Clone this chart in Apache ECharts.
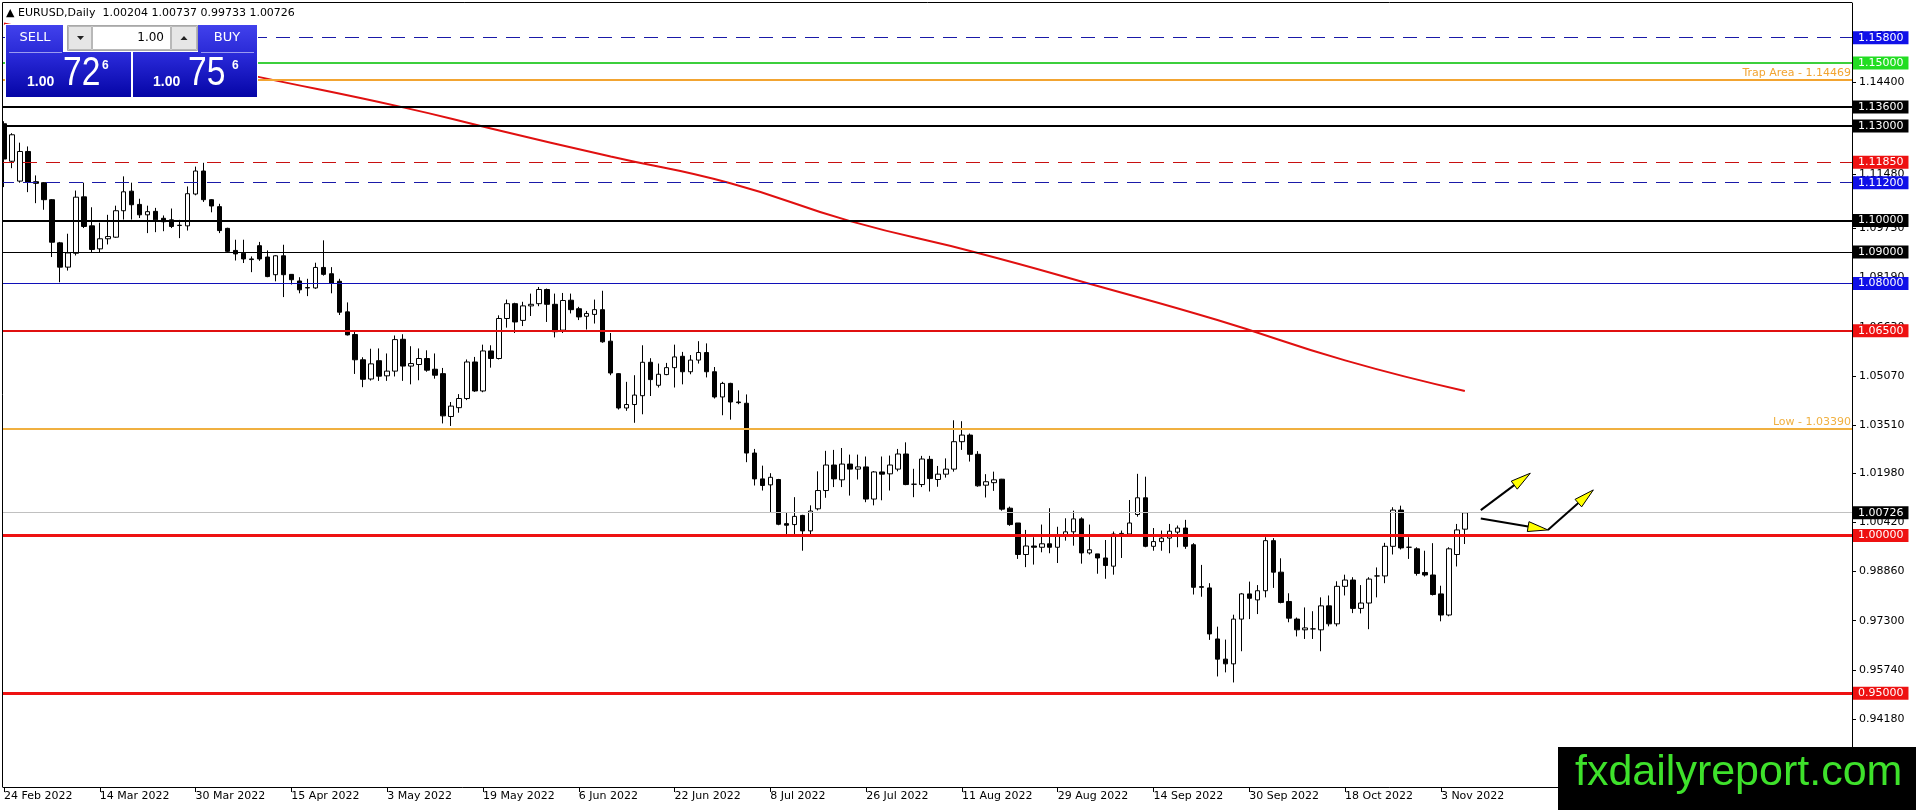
<!DOCTYPE html>
<html>
<head>
<meta charset="utf-8">
<title>EURUSD Daily</title>
<script src="https://cdn.jsdelivr.net/npm/echarts@6.0.0/dist/echarts.min.js"></script>
<style>
  html, body { margin: 0; padding: 0; background: #fff; }
  #main { width: 1916px; height: 810px; }
</style>
</head>
<body>
<div id="main"></div>
<script>
// daily bars, 24 Feb 2022 .. 8 Nov 2022
var opens = [
  1.1307, 1.1188, 1.1125, 1.1219, 1.1123, 1.1120, 1.1066, 1.0929, 1.0852, 1.0896, 1.1075, 1.0983,
  1.0910, 1.0942, 1.0947, 1.1031, 1.1093, 1.1051, 1.1018, 1.1029, 1.1007, 1.1002, 1.0984, 1.0983,
  1.1084, 1.1157, 1.1066, 1.1044, 1.0975, 1.0905, 1.0896, 1.0878, 1.0920, 1.0884, 1.0828, 1.0888,
  1.0829, 1.0808, 1.0787, 1.0786, 1.0851, 1.0831, 1.0807, 1.0710, 1.0638, 1.0558, 1.0497, 1.0555,
  1.0507, 1.0522, 1.0623, 1.0538, 1.0543, 1.0562, 1.0528, 1.0514, 1.0378, 1.0406, 1.0435, 1.0551,
  1.0459, 1.0586, 1.0562, 1.0689, 1.0736, 1.0683, 1.0729, 1.0736, 1.0781, 1.0734, 1.0652, 1.0747,
  1.0720, 1.0696, 1.0702, 1.0717, 1.0617, 1.0514, 1.0405, 1.0416, 1.0444, 1.0550, 1.0477, 1.0511,
  1.0533, 1.0569, 1.0520, 1.0557, 1.0581, 1.0520, 1.0440, 1.0483, 1.0424, 1.0420, 1.0262, 1.0180,
  1.0161, 1.0178, 1.0038, 1.0035, 1.0064, 1.0015, 1.0085, 1.0143, 1.0224, 1.0177, 1.0227, 1.0211,
  1.0218, 1.0116, 1.0202, 1.0196, 1.0211, 1.0259, 1.0163, 1.0162, 1.0242, 1.0178, 1.0195, 1.0211,
  1.0298, 1.0319, 1.0258, 1.0160, 1.0168, 1.0179, 1.0087, 1.0040, 0.9940, 0.9967, 0.9963, 0.9974,
  0.9963, 1.0002, 1.0012, 1.0053, 0.9945, 0.9942, 0.9929, 0.9903, 1.0003, 1.0005, 1.0067, 1.0120,
  0.9966, 0.9981, 0.9992, 1.0011, 1.0024, 0.9971, 0.9838, 0.9834, 0.9672, 0.9608, 0.9593, 0.9735,
  0.9815, 0.9796, 0.9825, 0.9984, 0.9884, 0.9791, 0.9735, 0.9701, 0.9704, 0.9701, 0.9777, 0.9720,
  0.9839, 0.9859, 0.9769, 0.9786, 0.9872, 0.9872, 0.9966, 1.0081, 0.9963, 0.9958, 0.9883, 0.9875,
  0.9815, 0.9748, 0.9940, 1.00204
];
var highs = [
  1.1315, 1.1277, 1.1247, 1.1235, 1.1143, 1.1122, 1.1068, 1.0932, 1.0958, 1.1095, 1.1120, 1.1042,
  1.0993, 1.1018, 1.1047, 1.1140, 1.1120, 1.1069, 1.1047, 1.1040, 1.1016, 1.1038, 1.1002, 1.1108,
  1.1171, 1.1183, 1.1068, 1.1053, 1.0977, 1.0939, 1.0939, 1.0886, 1.0932, 1.0905, 1.0890, 1.0923,
  1.0830, 1.0820, 1.0815, 1.0866, 1.0937, 1.0852, 1.0815, 1.0740, 1.0646, 1.0566, 1.0593, 1.0594,
  1.0578, 1.0635, 1.0639, 1.0601, 1.0594, 1.0588, 1.0578, 1.0532, 1.0424, 1.0449, 1.0559, 1.0567,
  1.0606, 1.0604, 1.0699, 1.0749, 1.0739, 1.0742, 1.0768, 1.0789, 1.0784, 1.0768, 1.0770, 1.0768,
  1.0726, 1.0713, 1.0749, 1.0777, 1.0643, 1.0516, 1.0488, 1.0509, 1.0604, 1.0563, 1.0546, 1.0548,
  1.0606, 1.0583, 1.0573, 1.0617, 1.0610, 1.0535, 1.0488, 1.0485, 1.0461, 1.0448, 1.0275, 1.0222,
  1.0198, 1.0180, 1.0072, 1.0122, 1.0066, 1.0096, 1.0204, 1.0269, 1.0272, 1.0278, 1.0257, 1.0257,
  1.0251, 1.0205, 1.0251, 1.0254, 1.0275, 1.0296, 1.0212, 1.0253, 1.0253, 1.0221, 1.0245, 1.0366,
  1.0363, 1.0324, 1.0268, 1.0195, 1.0203, 1.0180, 1.0092, 1.0040, 1.0018, 0.9995, 1.0035, 1.0087,
  1.0028, 1.0055, 1.0079, 1.0058, 1.0035, 0.9942, 0.9986, 1.0013, 1.0016, 1.0113, 1.0196, 1.0187,
  1.0024, 1.0016, 1.0037, 1.0032, 1.0050, 0.9976, 0.9907, 0.9849, 0.9711, 0.9670, 0.9749, 0.9818,
  0.9854, 0.9843, 0.9995, 0.9992, 0.9928, 0.9817, 0.9740, 0.9772, 0.9760, 0.9804, 0.9810, 0.9855,
  0.9876, 0.9868, 0.9843, 0.9868, 0.9899, 0.9977, 1.0090, 1.0095, 0.9995, 0.9963, 0.9952, 0.9976,
  0.9841, 0.9963, 1.0037, 1.00737
];
var lows = [
  1.1106, 1.1166, 1.1120, 1.1090, 1.1055, 1.1034, 1.0884, 1.0804, 1.0841, 1.0889, 1.0976, 1.0900,
  1.0900, 1.0924, 1.0945, 1.1003, 1.1003, 1.1008, 1.0960, 1.0963, 1.0966, 1.0976, 1.0944, 1.0968,
  1.1080, 1.1059, 1.1026, 1.0960, 1.0900, 1.0873, 1.0865, 1.0836, 1.0872, 1.0820, 1.0807, 1.0757,
  1.0797, 1.0769, 1.0760, 1.0783, 1.0825, 1.0769, 1.0700, 1.0635, 1.0513, 1.0471, 1.0492, 1.0491,
  1.0491, 1.0505, 1.0491, 1.0480, 1.0493, 1.0520, 1.0498, 1.0356, 1.0348, 1.0390, 1.0430, 1.0456,
  1.0455, 1.0533, 1.0559, 1.0660, 1.0643, 1.0665, 1.0697, 1.0728, 1.0678, 1.0629, 1.0643, 1.0705,
  1.0684, 1.0654, 1.0673, 1.0612, 1.0509, 1.0400, 1.0396, 1.0358, 1.0385, 1.0443, 1.0470, 1.0509,
  1.0470, 1.0480, 1.0512, 1.0546, 1.0502, 1.0435, 1.0382, 1.0368, 1.0417, 1.0233, 1.0159, 1.0143,
  1.0072, 1.0033, 1.0004, 1.0004, 0.9952, 1.0004, 1.0080, 1.0120, 1.0154, 1.0154, 1.0127, 1.0178,
  1.0106, 1.0096, 1.0112, 1.0143, 1.0204, 1.0160, 1.0122, 1.0154, 1.0140, 1.0155, 1.0184, 1.0203,
  1.0272, 1.0235, 1.0155, 1.0121, 1.0142, 1.0079, 1.0031, 0.9926, 0.9900, 0.9908, 0.9947, 0.9944,
  0.9913, 0.9984, 0.9968, 0.9911, 0.9940, 0.9879, 0.9863, 0.9876, 0.9929, 1.0003, 1.0060, 0.9963,
  0.9952, 0.9952, 0.9944, 0.9963, 0.9958, 0.9813, 0.9806, 0.9669, 0.9553, 0.9566, 0.9534, 0.9633,
  0.9735, 0.9751, 0.9804, 0.9834, 0.9785, 0.9725, 0.9680, 0.9672, 0.9672, 0.9633, 0.9712, 0.9712,
  0.9810, 0.9754, 0.9753, 0.9703, 0.9804, 0.9849, 0.9940, 0.9956, 0.9926, 0.9873, 0.9870, 0.9810,
  0.9728, 0.9744, 0.9902, 0.99733
];
var closes = [
  1.1195, 1.1272, 1.1219, 1.1122, 1.1118, 1.1066, 1.0931, 1.0852, 1.0897, 1.1074, 1.0981, 1.0908,
  1.0942, 1.0949, 1.1031, 1.1091, 1.1050, 1.1018, 1.1028, 1.1002, 1.0996, 1.0981, 1.0985, 1.1085,
  1.1157, 1.1066, 1.1046, 1.0968, 1.0902, 1.0894, 1.0878, 1.0876, 1.0878, 1.0822, 1.0888, 1.0828,
  1.0812, 1.0780, 1.0786, 1.0851, 1.0829, 1.0801, 1.0709, 1.0637, 1.0558, 1.0496, 1.0545, 1.0506,
  1.0522, 1.0622, 1.0538, 1.0546, 1.0562, 1.0525, 1.0509, 1.0380, 1.0411, 1.0435, 1.0551, 1.0459,
  1.0586, 1.0562, 1.0689, 1.0736, 1.0678, 1.0729, 1.0734, 1.0781, 1.0734, 1.0647, 1.0746, 1.0717,
  1.0694, 1.0705, 1.0717, 1.0615, 1.0516, 1.0405, 1.0416, 1.0446, 1.0550, 1.0495, 1.0512, 1.0533,
  1.0567, 1.0520, 1.0557, 1.0581, 1.0520, 1.0440, 1.0483, 1.0424, 1.0422, 1.0262, 1.0180, 1.0159,
  1.0185, 1.0036, 1.0033, 1.0061, 1.0015, 1.0078, 1.0143, 1.0224, 1.0180, 1.0227, 1.0211, 1.0218,
  1.0116, 1.0202, 1.0195, 1.0224, 1.0259, 1.0162, 1.0163, 1.0243, 1.0181, 1.0195, 1.0211, 1.0298,
  1.0319, 1.0258, 1.0158, 1.0171, 1.0177, 1.0084, 1.0035, 0.9940, 0.9967, 0.9963, 0.9974, 0.9963,
  1.0002, 1.0012, 1.0053, 0.9945, 0.9955, 0.9929, 0.9905, 1.0005, 1.0007, 1.0040, 1.0120, 0.9966,
  0.9981, 0.9992, 1.0014, 1.0024, 0.9966, 0.9836, 0.9836, 0.9688, 0.9608, 0.9593, 0.9735, 0.9815,
  0.9801, 0.9825, 0.9984, 0.9884, 0.9788, 0.9738, 0.9701, 0.9707, 0.9704, 0.9777, 0.9720, 0.9839,
  0.9859, 0.9769, 0.9786, 0.9862, 0.9872, 0.9966, 1.0081, 0.9961, 0.9963, 0.9880, 0.9875, 0.9813,
  0.9748, 0.9958, 1.0018, 1.00726
];

// red moving average, [bar index, value] read at a few points
var maPoints = [
  [0, 1.1625], [32, 1.1455], [50, 1.1359], [61, 1.1292], [76, 1.1203], [91, 1.1118],
  [106, 1.0998], [122, 1.0897], [137, 1.0792], [152, 1.0684], [168, 1.0556], [183, 1.0459]
];

// horizontal levels drawn on the chart
var levelPrices = [1.158, 1.15, 1.14469, 1.136, 1.13, 1.1185, 1.112, 1.10, 1.09, 1.08, 1.065, 1.0339, 1.00726, 1.0, 0.95];

// price scale tick labels
var priceTicks = [1.1586, 1.1440, 1.1294, 1.1148, 1.0975, 1.0819, 1.0663, 1.0507, 1.0351, 1.0198, 1.0042, 0.9886, 0.9730, 0.9574, 0.9418];

// hand drawn arrows, [bar index, price] pairs
var arrows = [
  [[185, 1.0081], [191.2, 1.0198]],
  [[185, 1.0054], [193.4, 1.0018]],
  [[193.4, 1.0018], [199.1, 1.0145]]
];

var futureBars = 48;

// weekday dates for the category axis
var months = ['Jan','Feb','Mar','Apr','May','Jun','Jul','Aug','Sep','Oct','Nov','Dec'];
var dates = [];
var d = new Date(Date.UTC(2022, 1, 24));
var last = Date.UTC(2022, 10, 8);
while (d.getTime() <= last) {
    var wd = d.getUTCDay();
    if (wd !== 0 && wd !== 6) {
        dates.push(d.getUTCDate() + ' ' + months[d.getUTCMonth()] + ' ' + d.getUTCFullYear());
    }
    d.setUTCDate(d.getUTCDate() + 1);
}
var categories = dates.slice();
for (var k = 0; k < futureBars; k++) categories.push('');

var candles = [];
for (var i = 0; i < opens.length; i++) {
    candles.push([opens[i], closes[i], lows[i], highs[i]]);
}

var FONT = 'DejaVu Sans';

// styles for each level, same order as levelPrices
var levelStyles = [
    {color: '#1a1aa8', width: 1, type: [14, 9], box: '#1010e8'},
    {color: '#3ccf3c', width: 2, type: 'solid', box: '#22dd22'},
    {color: '#f2a431', width: 2, type: 'solid', text: 'Trap Area - 1.14469'},
    {color: '#000000', width: 2, type: 'solid', box: '#000000'},
    {color: '#000000', width: 2, type: 'solid', box: '#000000'},
    {color: '#c81010', width: 1, type: [14, 9], box: '#ee1111'},
    {color: '#1a1aa8', width: 1, type: [14, 9], box: '#1010e8'},
    {color: '#000000', width: 2, type: 'solid', box: '#000000'},
    {color: '#000000', width: 1, type: 'solid', box: '#000000'},
    {color: '#1010b8', width: 1, type: 'solid', box: '#1010e8'},
    {color: '#e01010', width: 2, type: 'solid', box: '#ee1111'},
    {color: '#f0b040', width: 2, type: 'solid', text: 'Low - 1.03390'},
    {color: '#c0c0c0', width: 1, type: 'solid', box: '#000000'},
    {color: '#ee1111', width: 3, type: 'solid', box: '#ee1111'},
    {color: '#ee1111', width: 3, type: 'solid', box: '#ee1111'}
];

var levelLines = levelPrices.map(function (p, idx) {
    var s = levelStyles[idx];
    var item = {
        yAxis: p,
        lineStyle: {color: s.color, width: s.width, type: s.type, opacity: 1}
    };
    if (s.box) {
        item.label = {
            show: true, position: 'end', distance: 1,
            formatter: p.toFixed(5),
            color: '#ffffff', backgroundColor: s.box,
            fontFamily: FONT, fontSize: 11, lineHeight: 13,
            padding: [0, 5, 0, 5]
        };
    } else {
        item.label = {
            show: true, position: 'insideEndTop', distance: 1,
            formatter: s.text, color: s.color,
            fontFamily: FONT, fontSize: 11
        };
    }
    return item;
});

var myChart = echarts.init(document.getElementById('main'));

option = {
    animation: false,
    backgroundColor: '#ffffff',
    grid: {left: -1, right: 64, top: 3, bottom: 23, containLabel: false},
    xAxis: {
        type: 'category',
        data: categories,
        boundaryGap: true,
        axisLine: {show: true, lineStyle: {color: '#000', width: 1}},
        axisTick: {
            show: true, alignWithLabel: true, length: 5,
            interval: function (idx, val) { return val !== '' && idx % 12 === 0; },
            lineStyle: {color: '#000'}
        },
        axisLabel: {
            interval: function (idx, val) { return val !== '' && idx % 12 === 0; },
            align: 'left', margin: 4,
            color: '#000', fontFamily: FONT, fontSize: 11
        },
        splitLine: {show: false}
    },
    yAxis: {
        type: 'value',
        position: 'right',
        scale: true,
        min: 0.92022,
        max: 1.16902,
        axisLine: {show: true, lineStyle: {color: '#000', width: 1}},
        axisTick: {show: true, length: 4, customValues: priceTicks, lineStyle: {color: '#000'}},
        axisLabel: {
            customValues: priceTicks,
            formatter: function (v) { return v.toFixed(5); },
            margin: 7, color: '#000', fontFamily: FONT, fontSize: 11
        },
        splitLine: {show: false}
    },
    series: [
        {
            name: 'EURUSD',
            type: 'candlestick',
            data: candles,
            barWidth: 5,
            clip: false,
            itemStyle: {
                color: '#ffffff',
                color0: '#000000',
                borderColor: '#000000',
                borderColor0: '#000000',
                borderWidth: 1
            },
            markLine: {
                silent: true,
                precision: 5,
                symbol: ['none', 'none'],
                data: levelLines
            }
        },
        {
            name: 'MA',
            type: 'line',
            data: maPoints,
            smooth: true,
            showSymbol: false,
            silent: true,
            lineStyle: {color: '#e01010', width: 2}
        }
    ]
};
myChart.setOption(option);

// overlay: trade panel, title, arrows, logo
function toPx(idx, price) {
    var a = myChart.convertToPixel({seriesIndex: 0}, [0, price]);
    var b = myChart.convertToPixel({seriesIndex: 0}, [1, price]);
    return [a[0] + (b[0] - a[0]) * idx, a[1]];
}

function arrowShapes(p0, p1) {
    var dx = p1[0] - p0[0], dy = p1[1] - p0[1];
    var len = Math.sqrt(dx * dx + dy * dy);
    var ux = dx / len, uy = dy / len, nx = -uy, ny = ux;
    var hl = 20, hw = 5;
    var bx = p1[0] - ux * hl, by = p1[1] - uy * hl;
    return [
        {type: 'line', z: 90, shape: {x1: p0[0], y1: p0[1], x2: bx, y2: by}, style: {stroke: '#000', lineWidth: 2}},
        {type: 'polygon', z: 91, shape: {points: [[p1[0], p1[1]], [bx + nx * hw, by + ny * hw], [bx - nx * hw, by - ny * hw]]},
            style: {fill: '#ffff00', stroke: '#000', lineWidth: 1}}
    ];
}

var headGrad = new echarts.graphic.LinearGradient(0, 0, 0, 1, [{offset: 0, color: '#4141ec'}, {offset: 1, color: '#2b2bd8'}]);
var boxGrad = new echarts.graphic.LinearGradient(0, 0, 0, 1, [{offset: 0, color: '#2c2cdc'}, {offset: 1, color: '#0505a6'}]);

var gfx = [
    // frame top/left
    {type: 'rect', z: 80, shape: {x: -2, y: 0, width: 4.5, height: 790}, style: {fill: '#fff'}},
    {type: 'line', z: 81, shape: {x1: 2.5, y1: 2.5, x2: 1852, y2: 2.5}, style: {stroke: '#000', lineWidth: 1}},
    {type: 'line', z: 81, shape: {x1: 2.5, y1: 2.5, x2: 2.5, y2: 787}, style: {stroke: '#000', lineWidth: 1}},
    // title
    {type: 'text', z: 100, x: 6, y: 13, style: {text: '\u25B2 EURUSD,Daily  1.00204 1.00737 0.99733 1.00726', font: '11px "DejaVu Sans"', fill: '#000', verticalAlign: 'middle'}},
    // white underlay of the trade panel
    {type: 'rect', z: 99, shape: {x: 5, y: 24, width: 253, height: 74}, style: {fill: '#ffffff'}},
    // sell / buy headers
    {type: 'rect', z: 100, shape: {x: 6, y: 25, width: 57, height: 27}, style: {fill: headGrad}},
    {type: 'rect', z: 100, shape: {x: 198, y: 25, width: 59, height: 27}, style: {fill: headGrad}},
    {type: 'text', z: 101, x: 35, y: 38, style: {text: 'SELL', font: '13px "DejaVu Sans"', fill: '#fff', align: 'center', verticalAlign: 'middle'}},
    {type: 'text', z: 101, x: 227, y: 38, style: {text: 'BUY', font: '13px "DejaVu Sans"', fill: '#fff', align: 'center', verticalAlign: 'middle'}},
    // lot spinner
    {type: 'rect', z: 100, shape: {x: 67.5, y: 25.5, width: 130, height: 25}, style: {fill: '#f0f0f0', stroke: '#a8a8a8', lineWidth: 1}},
    {type: 'rect', z: 101, shape: {x: 68.5, y: 26.5, width: 23, height: 23}, style: {fill: '#e6e6e6', stroke: '#b8b8b8', lineWidth: 1}},
    {type: 'polygon', z: 102, shape: {points: [[77, 36], [84, 36], [80.5, 40]]}, style: {fill: '#222'}},
    {type: 'rect', z: 101, shape: {x: 92.5, y: 26.5, width: 78, height: 23}, style: {fill: '#ffffff', stroke: '#b8b8b8', lineWidth: 1}},
    {type: 'text', z: 102, x: 164, y: 38, style: {text: '1.00', font: '12px "DejaVu Sans"', fill: '#000', align: 'right', verticalAlign: 'middle'}},
    {type: 'rect', z: 101, shape: {x: 171.5, y: 26.5, width: 25, height: 23}, style: {fill: '#e6e6e6', stroke: '#b8b8b8', lineWidth: 1}},
    {type: 'polygon', z: 102, shape: {points: [[180.5, 40], [187.5, 40], [184, 36]]}, style: {fill: '#222'}},
    // price boxes
    {type: 'rect', z: 100, shape: {x: 6, y: 52, width: 125, height: 45}, style: {fill: boxGrad}},
    {type: 'rect', z: 100, shape: {x: 133, y: 52, width: 124, height: 45}, style: {fill: boxGrad}},
    {type: 'line', z: 101, shape: {x1: 9, y1: 52.5, x2: 62, y2: 52.5}, style: {stroke: '#9a9af0', lineWidth: 1}},
    {type: 'line', z: 101, shape: {x1: 201, y1: 52.5, x2: 254, y2: 52.5}, style: {stroke: '#9a9af0', lineWidth: 1}},
    {type: 'text', z: 101, x: 27, y: 82, style: {text: '1.00', font: 'bold 14px "Liberation Sans"', fill: '#fff', verticalAlign: 'middle'}},
    {type: 'text', z: 101, x: 63, y: 74, scaleX: 0.82, style: {text: '72', font: '41px "Liberation Sans"', fill: '#fff', verticalAlign: 'middle'}},
    {type: 'text', z: 101, x: 102, y: 66, style: {text: '6', font: 'bold 12px "Liberation Sans"', fill: '#fff', verticalAlign: 'middle'}},
    {type: 'text', z: 101, x: 153, y: 82, style: {text: '1.00', font: 'bold 14px "Liberation Sans"', fill: '#fff', verticalAlign: 'middle'}},
    {type: 'text', z: 101, x: 188, y: 74, scaleX: 0.82, style: {text: '75', font: '41px "Liberation Sans"', fill: '#fff', verticalAlign: 'middle'}},
    {type: 'text', z: 101, x: 232, y: 66, style: {text: '6', font: 'bold 12px "Liberation Sans"', fill: '#fff', verticalAlign: 'middle'}},
    // watermark
    {type: 'rect', z: 110, shape: {x: 1558, y: 747, width: 358, height: 63}, style: {fill: '#000'}},
    {type: 'text', z: 111, x: 1575, y: 773, style: {text: 'fxdailyreport.com', font: '43px "Liberation Sans"', fill: '#3ee12b', verticalAlign: 'middle'}}
];

arrows.forEach(function (a) {
    gfx = gfx.concat(arrowShapes(toPx(a[0][0], a[0][1]), toPx(a[1][0], a[1][1])));
});

myChart.setOption({graphic: {elements: gfx}});
</script>
</body>
</html>
